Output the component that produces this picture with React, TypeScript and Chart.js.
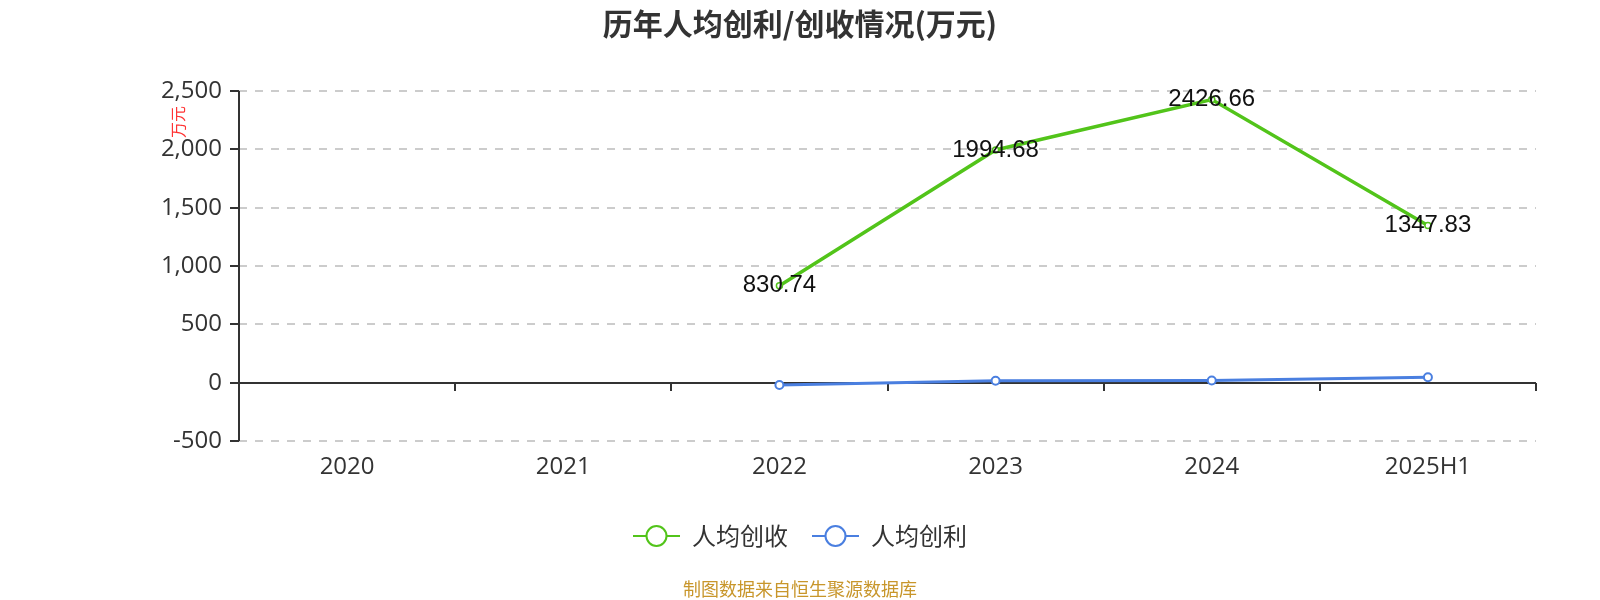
import React, { useEffect, useRef } from 'react';
import { Chart, registerables } from 'chart.js';

Chart.register(...registerables);

const categories = ['2020', '2021', '2022', '2023', '2024', '2025H1'];
const revenuePerCapita = [null, null, 830.74, 1994.68, 2426.66, 1347.83];
const profitPerCapita = [null, null, -20.3, 16.8, 18.4, 45.9];
const yTicks = [-500, 0, 500, 1000, 1500, 2000, 2500];
const seriesNames = ['人均创收', '人均创利'];
const titleText = '历年人均创利/创收情况(万元)';
const sourceText = '制图数据来自恒生聚源数据库';
const yAxisName = '万元';

const GREEN = '#52c41a';
const BLUE = '#4a7fe0';
const CJK = '"Noto Sans CJK SC", "Noto Sans", sans-serif';
const SANS = '"Open Sans", "Noto Sans", sans-serif';
const LABEL_FONT = '"Liberation Sans", Arial, sans-serif';

const decor = {
  id: 'decor',
  beforeDatasetsDraw(chart: any) {
    const { ctx, chartArea, scales } = chart;
    const { left, right, top, bottom } = chartArea;
    const x = scales.x;
    const y = scales.y;
    ctx.save();
    ctx.strokeStyle = '#cccccc';
    ctx.lineWidth = 2;
    ctx.setLineDash([8, 8]);
    yTicks.forEach((v) => {
      if (v === 0) return;
      const py = Math.round(y.getPixelForValue(v));
      ctx.beginPath();
      ctx.moveTo(left, py);
      ctx.lineTo(right, py);
      ctx.stroke();
    });
    ctx.setLineDash([]);
    ctx.strokeStyle = '#333333';
    ctx.lineWidth = 2;
    ctx.beginPath();
    ctx.moveTo(left, top);
    ctx.lineTo(left, bottom);
    ctx.stroke();
    yTicks.forEach((v) => {
      const py = Math.round(y.getPixelForValue(v));
      ctx.beginPath();
      ctx.moveTo(left - 9, py);
      ctx.lineTo(left, py);
      ctx.stroke();
    });
    const y0 = Math.round(y.getPixelForValue(0));
    ctx.beginPath();
    ctx.moveTo(left, y0);
    ctx.lineTo(right, y0);
    ctx.stroke();
    for (let i = 0; i <= categories.length; i++) {
      const bx = Math.round(x.getPixelForValue(i - 0.5));
      ctx.beginPath();
      ctx.moveTo(bx, y0);
      ctx.lineTo(bx, y0 + 8);
      ctx.stroke();
    }
    ctx.restore();
  },
  afterDatasetsDraw(chart: any) {
    const { ctx } = chart;
    const meta = chart.getDatasetMeta(0);
    ctx.save();
    ctx.font = `24px ${LABEL_FONT}`;
    ctx.fillStyle = '#111111';
    ctx.textAlign = 'center';
    ctx.textBaseline = 'middle';
    meta.data.forEach((pt: any, i: number) => {
      const v = revenuePerCapita[i];
      if (v === null || v === undefined) return;
      ctx.fillText(v.toFixed(2), pt.x, pt.y);
    });
    ctx.restore();
  },
  afterDraw(chart: any) {
    const { ctx } = chart;
    const W = chart.width;
    ctx.save();
    ctx.font = `bold 30px ${CJK}`;
    ctx.fillStyle = '#333333';
    ctx.textAlign = 'center';
    ctx.textBaseline = 'middle';
    ctx.fillText(titleText, W / 2, 24);
    ctx.save();
    ctx.translate(178, 122);
    ctx.rotate(-Math.PI / 2);
    ctx.font = `16px ${CJK}`;
    ctx.fillStyle = '#ff3333';
    ctx.textAlign = 'center';
    ctx.textBaseline = 'middle';
    ctx.fillText(yAxisName, 0, 0);
    ctx.restore();
    const colors = [GREEN, BLUE];
    const ly = 536;
    ctx.font = `24px ${CJK}`;
    const symW = 47;
    const gapSymText = 12;
    const gapItems = 24;
    const widths = seriesNames.map((n) => ctx.measureText(n).width);
    let total = 0;
    widths.forEach((w, i) => {
      total += symW + gapSymText + w + (i < widths.length - 1 ? gapItems : 0);
    });
    let cx = W / 2 - total / 2;
    seriesNames.forEach((n, i) => {
      ctx.strokeStyle = colors[i];
      ctx.lineWidth = 2;
      ctx.beginPath();
      ctx.moveTo(cx, ly);
      ctx.lineTo(cx + symW, ly);
      ctx.stroke();
      ctx.beginPath();
      ctx.arc(cx + symW / 2, ly, 10, 0, Math.PI * 2);
      ctx.fillStyle = '#ffffff';
      ctx.fill();
      ctx.stroke();
      ctx.fillStyle = '#333333';
      ctx.textAlign = 'left';
      ctx.textBaseline = 'middle';
      ctx.fillText(n, cx + symW + gapSymText, ly);
      cx += symW + gapSymText + widths[i] + gapItems;
    });
    ctx.font = `18px ${CJK}`;
    ctx.fillStyle = '#c8962b';
    ctx.textAlign = 'center';
    ctx.textBaseline = 'middle';
    ctx.fillText(sourceText, W / 2, 589);
    ctx.restore();
  },
};

export default function App() {
  const ref = useRef<HTMLCanvasElement | null>(null);
  useEffect(() => {
    if (!ref.current) return;
    const chart = new Chart(ref.current, {
      type: 'line',
      data: {
        labels: categories,
        datasets: [
          {
            label: seriesNames[0],
            data: revenuePerCapita as any,
            borderColor: GREEN,
            backgroundColor: GREEN,
            borderWidth: 3.5,
            pointRadius: 3,
            pointBorderWidth: 1.5,
            pointBackgroundColor: '#ffffff',
            pointBorderColor: GREEN,
            tension: 0,
          },
          {
            label: seriesNames[1],
            data: profitPerCapita as any,
            borderColor: BLUE,
            backgroundColor: BLUE,
            borderWidth: 3,
            pointRadius: 4,
            pointBorderWidth: 2,
            pointBackgroundColor: '#ffffff',
            pointBorderColor: BLUE,
            tension: 0,
          },
        ],
      },
      options: {
        responsive: false,
        animation: false,
        layout: { padding: { left: 0, right: 64, top: 91, bottom: 109 } },
        plugins: {
          legend: { display: false },
          title: { display: false },
          tooltip: { enabled: false },
        },
        scales: {
          x: {
            type: 'category',
            offset: true,
            grid: { display: false, drawTicks: false },
            border: { display: false },
            ticks: {
              color: '#333333',
              font: { size: 24, family: SANS },
              padding: 12,
              maxRotation: 0,
            },
            afterFit: (s: any) => {
              s.height = 50;
            },
          },
          y: {
            min: -500,
            max: 2500,
            grid: { display: false, drawTicks: false },
            border: { display: false },
            ticks: {
              stepSize: 500,
              color: '#333333',
              font: { size: 24, family: SANS },
              padding: 17,
            },
            afterFit: (s: any) => {
              s.width = 239;
            },
          },
        },
      },
      plugins: [decor],
    });
    return () => chart.destroy();
  }, []);
  return (
    <div style={{ position: 'absolute', left: 0, top: 0, width: 1600, height: 600 }}>
      <canvas ref={ref} width={1600} height={600} style={{ display: 'block' }} />
    </div>
  );
}
